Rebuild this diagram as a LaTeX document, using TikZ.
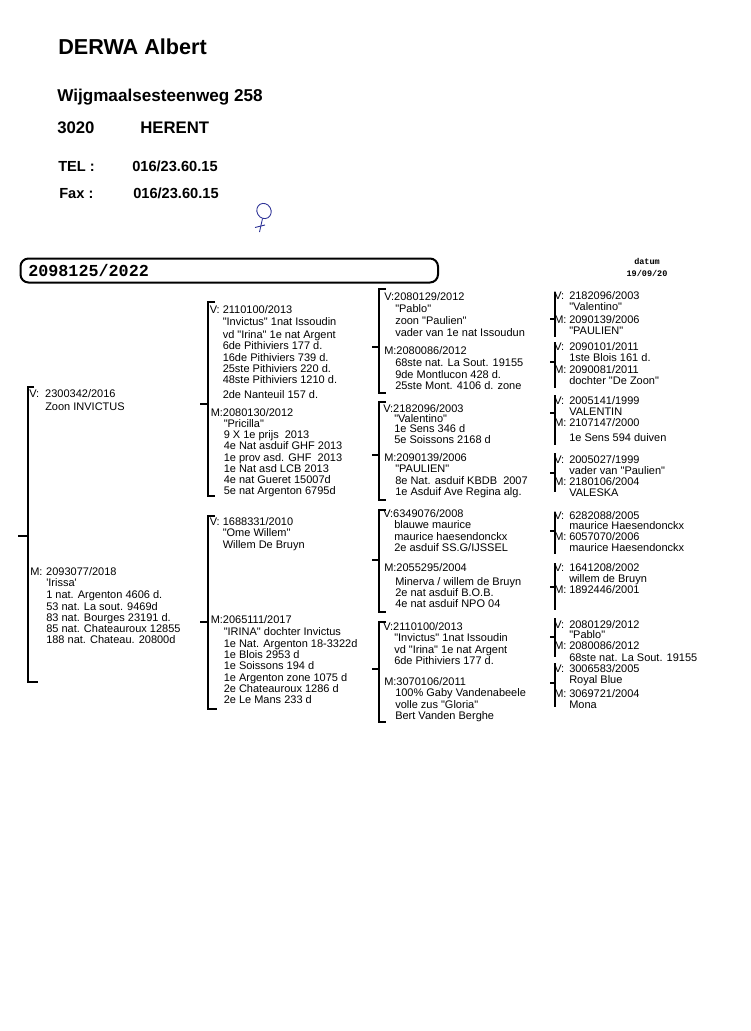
\documentclass[tikz,border=0pt]{standalone}
\usepackage{fontspec}
\setmainfont{Liberation Sans}
\newfontfamily\arial{Liberation Sans}
\newfontfamily\koerier{Liberation Mono}
\usetikzlibrary{positioning}
\newlength{\insprong}
\newcommand{\insp}{\hspace*{\insprong}}
\newcommand{\vmlab}[1]{\makebox[\insprong][l]{#1}}
\newcommand{\pedfont}{\arial\fontsize{8.8}{8.8}\selectfont}
\newcommand{\smalpedfont}{\arial\fontsize{8.8}{8.4}\selectfont}
\newcommand{\blok}[1]{\begin{tabular}[t]{@{}l@{}}#1\end{tabular}}
\definecolor{pen}{RGB}{45,50,150}
\tikzset{
    ouder/.style={anchor=base west,inner sep=0pt,font=\pedfont},
    kol1/.style={ouder,execute at begin node={\setlength{\insprong}{12.8pt}}},
    kol2/.style={ouder,execute at begin node={\setlength{\insprong}{10.4pt}}},
    kol3/.style={ouder,execute at begin node={\setlength{\insprong}{8.8pt}}},
    kol4/.style={ouder,font=\smalpedfont,execute at begin node={\setlength{\insprong}{12pt}}},
    kop/.style={anchor=base west,inner sep=0pt},
    datum/.style={anchor=base,inner sep=0pt,font=\koerier\bfseries\fontsize{6.8}{8}\selectfont},
    haak/.style={line width=1.2pt},
    ring/.style={line width=1.6pt,rounded corners=6.4pt}
}

\begin{document}
\begin{tikzpicture}[x=0.8pt,y=-0.8pt]
    \useasboundingbox (0,0) rectangle (750,1031);

    % kop
    \node[kop,font=\arial\bfseries\fontsize{17.3}{20}\selectfont] (naam) at (58,55) {DERWA Albert};
    \node[kop,font=\arial\bfseries\fontsize{13.7}{16}\selectfont] (straat) at (57,101.7) {Wijgmaalsesteenweg 258};
    \node[kop,font=\arial\bfseries\fontsize{13.4}{16}\selectfont] (postcode) at (57,133.3) {3020};
    \node[kop,font=\arial\bfseries\fontsize{13.4}{16}\selectfont] (gemeente) at (140,133.3) {HERENT};
    \node[kop,font=\arial\bfseries\fontsize{11.7}{14}\selectfont] (tel) at (58,171.7) {TEL :};
    \node[kop,font=\arial\bfseries\fontsize{11.7}{14}\selectfont] (telnr) at (132,171.7) {016/23.60.15};
    \node[kop,font=\arial\bfseries\fontsize{11.7}{14}\selectfont] (fax) at (59,198.3) {Fax :};
    \node[kop,font=\arial\bfseries\fontsize{11.7}{14}\selectfont] (faxnr) at (133,198.3) {016/23.60.15};

    % teken duivin
    \draw[pen,line width=0.7pt,rotate around={30:(264,211)}] (264,211) ellipse [x radius=7, y radius=7.8];
    \draw[pen,line width=0.7pt] (262.5,218.5) .. controls (261,225) .. (259.5,232);
    \draw[pen,line width=0.7pt] (255,227.5) -- (265,225);

    % ringnummer
    \draw[ring] (20.5,258.5) rectangle (438,282.5);
    \node[kop,font=\koerier\bfseries\fontsize{13.4}{16}\selectfont] (ringnr) at (28,276) {2098125/2022};
    \node[datum] (datum) at (647,264) {datum};
    \node[datum] (datumnr) at (647,276) {19/09/20};

    % haken
    \draw[haak] (34,387) -- (28,387) -- (28,682) -- (38,682);
    \draw[haak] (18,536) -- (28,536);
    \draw[haak] (215,302) -- (208,302) -- (208,496) -- (215,496);
    \draw[haak] (200,404) -- (208,404);
    \draw[haak] (215,516) -- (208,516) -- (208,709) -- (217,709);
    \draw[haak] (200,622) -- (208,622);
    \foreach \boven/\onder/\midden in {289/393/347,402/500/455,510/612/560,622/722/669}{
        \draw[haak] (386,\boven) -- (379,\boven) -- (379,\onder) -- (386,\onder);
        \draw[haak] (372,\midden) -- (379,\midden);
    }
    \foreach \boven/\onder/\midden in {292/337/319,342/388/362,395/445/413,453/492/473,512/554/531,563/610/587,618/657/637,663/707/683}{
        \draw[haak] (555,\boven) -- (555,\onder);
        \draw[haak] (550,\midden) -- (555,\midden);
    }

    % ouders
    \node[kol1] (v) at (29,397.5) {\blok{\vmlab{V:}2300342/2016\\[1.9pt]
        \insp Zoon INVICTUS}};
    \node[kol1] (m) at (30,575.7) {\blok{\vmlab{M:}2093077/2018\\
        \insp'Irissa'\\[0.5pt]
        \insp 1 nat. Argenton 4606 d.\\
        \insp 53 nat. La sout. 9469d\\
        \insp 83 nat. Bourges 23191 d.\\
        \insp 85 nat. Chateauroux 12855\\
        \insp 188 nat. Chateau. 20800d}};

    % grootouders
    \node[kol2] (vv) at (209.5,313) {\blok{V: 2110100/2013\\[0.6pt]
        \insp"Invictus" 1nat Issoudin\\[1.8pt]
        \insp vd "Irina" 1e nat Argent\\
        \insp 6de Pithiviers 177 d.\\
        \insp 16de Pithiviers 739 d.\\
        \insp 25ste Pithiviers 220 d.\\
        \insp 48ste Pithiviers 1210 d.\\[3.2pt]
        \insp 2de Nanteuil 157 d.}};
    \node[kol2] (vm) at (210.5,416) {\blok{M:2080130/2012\\
        \insp"Pricilla"\\
        \insp 9 X 1e prijs\ \ 2013\\
        \insp 4e Nat asduif GHF 2013\\
        \insp 1e prov asd. GHF\ \ 2013\\
        \insp 1e Nat asd LCB 2013\\
        \insp 4e nat Gueret 15007d\\
        \insp 5e nat Argenton 6795d}};
    \node[kol2] (mv) at (209.5,525.5) {\blok{V: 1688331/2010\\
        \insp"Ome Willem"\\
        \insp Willem De Bruyn}};
    \node[kol2] (mm) at (210.5,623.3) {\blok{M:2065111/2017\\[1.1pt]
        \insp"IRINA" dochter Invictus\\
        \insp 1e Nat. Argenton 18-3322d\\
        \insp 1e Blois 2953 d\\
        \insp 1e Soissons 194 d\\
        \insp 1e Argenton zone 1075 d\\
        \insp 2e Chateauroux 1286 d\\
        \insp 2e Le Mans 233 d}};

    % overgrootouders
    \node[kol3] (vvv) at (384,300) {\blok{V:2080129/2012\\[0.8pt]
        \insp"Pablo"\\[0.8pt]
        \insp zoon "Paulien"\\[0.8pt]
        \insp vader van 1e nat Issoudun}};
    \node[kol3] (vvm) at (384,354) {\blok{M:2080086/2012\\[1.4pt]
        \insp 68ste nat. La Sout. 19155\\
        \insp 9de Montlucon 428 d.\\
        \insp 25ste Mont. 4106 d. zone}};
    \node[kol3] (vmv) at (383,412) {\blok{V:2182096/2003\\[-0.6pt]
        \insp"Valentino"\\[-0.8pt]
        \insp 1e Sens 346 d\\[-0.4pt]
        \insp 5e Soissons 2168 d}};
    \node[kol3] (vmm) at (384,461) {\blok{M:2090139/2006\\[0.6pt]
        \insp"PAULIEN"\\
        \insp 8e Nat. asduif KBDB\ \ 2007\\
        \insp 1e Asduif Ave Regina alg.}};
    \node[kol3] (mvv) at (383,517.7) {\blok{V:6349076/2008\\
        \insp blauwe maurice\\
        \insp maurice haesendonckx\\
        \insp 2e asduif SS.G/IJSSEL}};
    \node[kol3] (mvm) at (384,571.7) {\blok{M:2055295/2004\\[1.8pt]
        \insp Minerva / willem de Bruyn\\[0.1pt]
        \insp 2e nat asduif B.O.B.\\[-0.4pt]
        \insp 4e nat asduif NPO 04}};
    \node[kol3] (mmv) at (383,630) {\blok{V:2110100/2013\\
        \insp"Invictus" 1nat Issoudin\\[0.5pt]
        \insp vd "Irina" 1e nat Argent\\
        \insp 6de Pithiviers 177 d.}};
    \node[kol3] (mmm) at (384,685) {\blok{M:3070106/2011\\[0.5pt]
        \insp 100\% Gaby Vandenabeele\\
        \insp volle zus "Gloria"\\
        \insp Bert Vanden Berghe}};

    % betovergrootouders
    \node[kol4] (vvv-ouders) at (554,299.7) {\blok{\vmlab{V:}2182096/2003\\
        \insp"Valentino"\\[1.2pt]
        \vmlab{M:}2090139/2006\\
        \insp"PAULIEN"}};
    \node[kol4] (vvm-ouders) at (554,350.7) {\blok{\vmlab{V:}2090101/2011\\
        \insp 1ste Blois 161 d.\\[0.4pt]
        \vmlab{M:}2090081/2011\\
        \insp dochter "De Zoon"}};
    \node[kol4] (vmv-ouders) at (554,404.7) {\blok{\vmlab{V:}2005141/1999\\
        \insp VALENTIN\\
        \vmlab{M:}2107147/2000\\[2.8pt]
        \insp 1e Sens 594 duiven}};
    \node[kol4] (vmm-ouders) at (554,463) {\blok{\vmlab{V:}2005027/1999\\
        \insp vader van "Paulien"\\
        \vmlab{M:}2180106/2004\\
        \insp VALESKA}};
    \node[kol4] (mvv-ouders) at (554,519) {\blok{\vmlab{V:}6282088/2005\\[-0.8pt]
        \insp maurice Haesendonckx\\[0.4pt]
        \vmlab{M:}6057070/2006\\
        \insp maurice Haesendonckx}};
    \node[kol4] (mvm-ouders) at (554,571) {\blok{\vmlab{V:}1641208/2002\\
        \insp willem de Bruyn\\[0.4pt]
        \vmlab{M:}1892446/2001}};
    \node[kol4] (mmv-ouders) at (554,628) {\blok{\vmlab{V:}2080129/2012\\[-0.8pt]
        \insp"Pablo"\\[0.4pt]
        \vmlab{M:}2080086/2012\\[0.4pt]
        \insp 68ste nat. La Sout. 19155}};
    \node[kol4] (mmm-ouders) at (554,672) {\blok{\vmlab{V:}3006583/2005\\[0.4pt]
        \insp Royal Blue\\[2.6pt]
        \vmlab{M:}3069721/2004\\
        \insp Mona}};
\end{tikzpicture}
\end{document}
